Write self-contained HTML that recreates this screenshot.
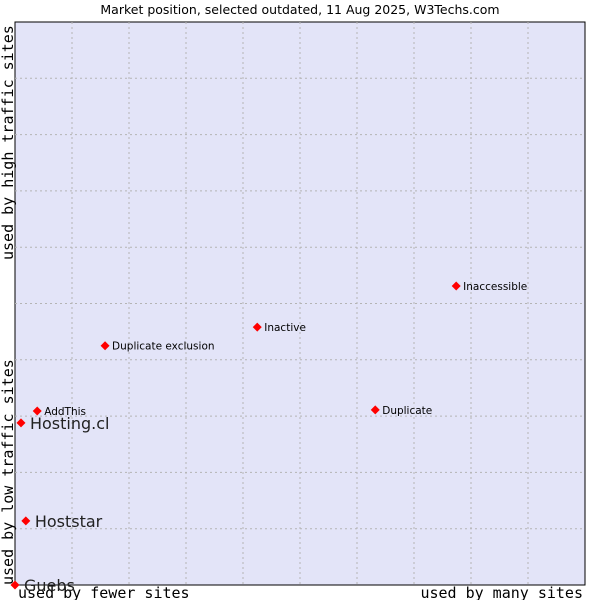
<!DOCTYPE html>
<html><head><meta charset="utf-8"><style>
body{margin:0;background:#fff;}
svg text{font-family:"DejaVu Sans","Liberation Sans",sans-serif;}
.mono{font-family:"DejaVu Sans Mono","Liberation Mono",monospace;}
</style></head><body>
<svg id="chart" width="600" height="600" xmlns="http://www.w3.org/2000/svg">
<text x="300" y="14" font-size="12.5" text-anchor="middle" fill="#000">Market position, selected outdated, 11 Aug 2025, W3Techs.com</text>
<rect x="15" y="22" width="570" height="563" fill="#e3e4f8" stroke="#000" stroke-width="1"/>
<g id="grid"></g>
<text class="mono" x="18" y="598" font-size="15">used by fewer sites</text>
<text class="mono" x="583" y="598" font-size="15" text-anchor="end">used by many sites</text>
<text class="mono" transform="translate(13,260) rotate(-90)" font-size="15">used by high traffic sites</text>
<text class="mono" transform="translate(13,585) rotate(-90)" font-size="15">used by low traffic sites</text>
<g id="points"></g>
</svg>
<script>
const names=["Guebs","Hoststar","Hosting.cl","AddThis","Duplicate exclusion","Inactive","Duplicate","Inaccessible"];
const xValues=[0,1.9,1.05,3.9,15.8,42.5,63.2,77.4];
const yValues=[0,11.4,28.8,30.9,42.5,45.8,31.1,53.1];
const highlighted=[true,true,true,false,false,false,false,false];
const NS="http://www.w3.org/2000/svg";
const X0=15,X1=585,Y0=585,Y1=22;
const xs=v=>X0+v/100*(X1-X0);
const ys=v=>Y0-v/100*(Y0-Y1);
const grid=document.getElementById('grid');
for(let i=1;i<10;i++){
 let l=document.createElementNS(NS,'line');
 
 
 l.setAttribute('x1',xs(i*10));l.setAttribute('x2',xs(i*10));l.setAttribute('y1',Y1);l.setAttribute('y2',Y0);
 l.setAttribute('stroke','#b4b4b4');l.setAttribute('stroke-dasharray','2,3');grid.appendChild(l);
 let h=document.createElementNS(NS,'line');
 
 
 h.setAttribute('x1',X0);h.setAttribute('x2',X1);h.setAttribute('y1',ys(i*10));h.setAttribute('y2',ys(i*10));
 h.setAttribute('stroke','#b4b4b4');h.setAttribute('stroke-dasharray','2,3');grid.appendChild(h);
}
const pts=document.getElementById('points');
names.forEach((n,i)=>{
 const cx=xs(xValues[i]),cy=ys(yValues[i]);
 const g=document.createElementNS(NS,'g');
 
 
 const d=document.createElementNS(NS,'polygon');
 
 
 d.setAttribute('points',`${cx},${cy-4.5} ${cx+4.5},${cy} ${cx},${cy+4.5} ${cx-4.5},${cy}`);
 d.setAttribute('fill','#ff0000');g.appendChild(d);
 const t=document.createElementNS(NS,'text');
 
 
 const big=highlighted[i];
 t.setAttribute('x',cx+(big?9:7));t.setAttribute('y',cy+(big?6:4));
 t.setAttribute('font-size',big?16:10.5);t.setAttribute('fill',big?'#222':'#000');
 t.textContent=n;g.appendChild(t);
 pts.appendChild(g);
});
</script>
</body></html>
